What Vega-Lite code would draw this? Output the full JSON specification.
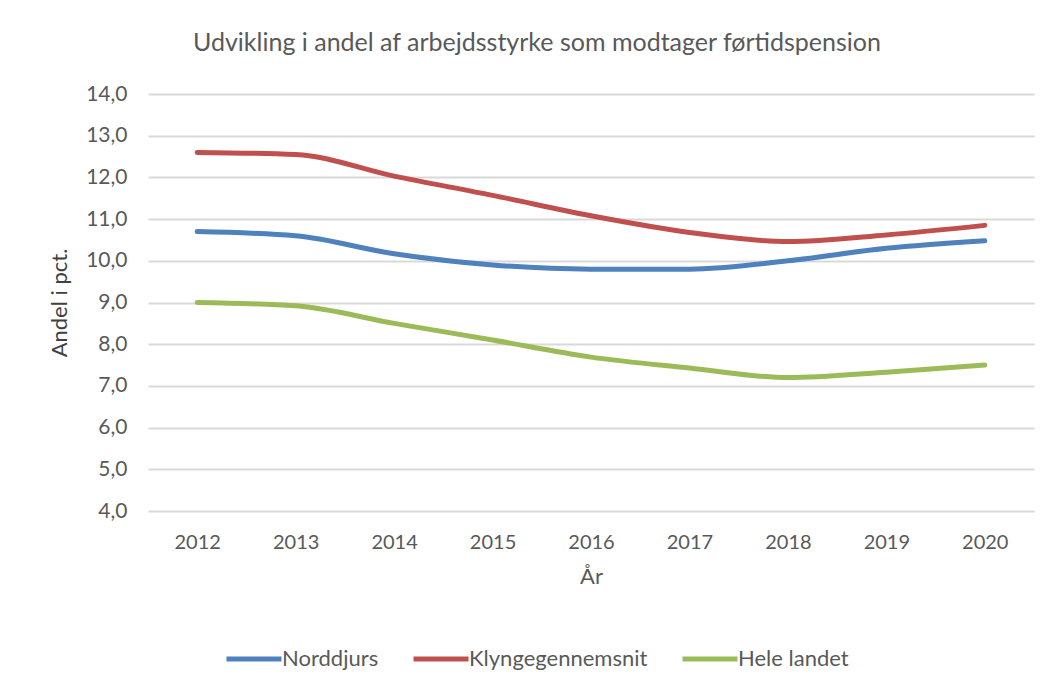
{
  "$schema": "https://vega.github.io/schema/vega-lite/v6.json",
  "width": 886,
  "height": 417,
  "autosize": {"type": "none"},
  "padding": {"left": 148, "top": 94, "right": 26, "bottom": 175},
  "background": "white",
  "title": {
    "text": "Udvikling i andel af arbejdsstyrke som modtager førtidspension",
    "font": "Lato",
    "fontSize": 25,
    "fontWeight": "normal",
    "color": "#595959",
    "anchor": "middle",
    "dx": -54,
    "offset": 27
  },
  "data": {
    "values": [
      {"year": "2012", "series": "Norddjurs", "value": 10.7},
      {"year": "2013", "series": "Norddjurs", "value": 10.6},
      {"year": "2014", "series": "Norddjurs", "value": 10.17},
      {"year": "2015", "series": "Norddjurs", "value": 9.9},
      {"year": "2016", "series": "Norddjurs", "value": 9.8},
      {"year": "2017", "series": "Norddjurs", "value": 9.8},
      {"year": "2018", "series": "Norddjurs", "value": 10.0},
      {"year": "2019", "series": "Norddjurs", "value": 10.3},
      {"year": "2020", "series": "Norddjurs", "value": 10.48},
      {"year": "2012", "series": "Klyngegennemsnit", "value": 12.6},
      {"year": "2013", "series": "Klyngegennemsnit", "value": 12.55},
      {"year": "2014", "series": "Klyngegennemsnit", "value": 12.03},
      {"year": "2015", "series": "Klyngegennemsnit", "value": 11.57},
      {"year": "2016", "series": "Klyngegennemsnit", "value": 11.08},
      {"year": "2017", "series": "Klyngegennemsnit", "value": 10.68},
      {"year": "2018", "series": "Klyngegennemsnit", "value": 10.46},
      {"year": "2019", "series": "Klyngegennemsnit", "value": 10.62},
      {"year": "2020", "series": "Klyngegennemsnit", "value": 10.85},
      {"year": "2012", "series": "Hele landet", "value": 9.0},
      {"year": "2013", "series": "Hele landet", "value": 8.92},
      {"year": "2014", "series": "Hele landet", "value": 8.5},
      {"year": "2015", "series": "Hele landet", "value": 8.1},
      {"year": "2016", "series": "Hele landet", "value": 7.69},
      {"year": "2017", "series": "Hele landet", "value": 7.43},
      {"year": "2018", "series": "Hele landet", "value": 7.2},
      {"year": "2019", "series": "Hele landet", "value": 7.33},
      {"year": "2020", "series": "Hele landet", "value": 7.5}
    ]
  },
  "mark": {"type": "line", "strokeWidth": 5, "strokeCap": "round", "strokeJoin": "round", "interpolate": "monotone"},
  "encoding": {
    "x": {
      "field": "year",
      "type": "ordinal",
      "scale": {"type": "point", "padding": 0.5},
      "axis": {
        "title": "År",
        "labelAngle": 0,
        "labelFont": "Lato",
        "labelFontSize": 20,
        "labelColor": "#595959",
        "labelPadding": 21,
        "ticks": false,
        "domain": false,
        "grid": false,
        "titleFont": "Lato",
        "titleFontSize": 22,
        "titleFontWeight": "normal",
        "titleColor": "#595959",
        "titlePadding": 14
      }
    },
    "y": {
      "field": "value",
      "type": "quantitative",
      "scale": {"domain": [4, 14], "nice": false, "zero": false},
      "axis": {
        "title": "Andel i pct.",
        "values": [4, 5, 6, 7, 8, 9, 10, 11, 12, 13, 14],
        "labelExpr": "replace(format(datum.value, '.1f'), '.', ',')",
        "labelFont": "Lato",
        "labelFontSize": 21,
        "labelColor": "#595959",
        "labelPadding": 21,
        "ticks": false,
        "domain": false,
        "grid": true,
        "gridColor": "#D9D9D9",
        "gridWidth": 2,
        "titleFont": "Lato",
        "titleFontSize": 22,
        "titleFontWeight": "normal",
        "titleColor": "#404040",
        "titlePadding": 14
      }
    },
    "color": {
      "field": "series",
      "type": "nominal",
      "scale": {
        "domain": ["Norddjurs", "Klyngegennemsnit", "Hele landet"],
        "range": ["#4F81BD", "#C0504D", "#9BBB59"]
      },
      "legend": {
        "orient": "none",
        "direction": "horizontal",
        "legendX": 76,
        "legendY": 535,
        "title": null,
        "symbolType": "stroke",
        "symbolSize": 3025,
        "symbolStrokeWidth": 5,
        "labelFont": "Lato",
        "labelFontSize": 22,
        "labelLimit": 400,
        "labelColor": "#595959",
        "labelOffset": -2,
        "columnPadding": 24
      }
    }
  },
  "config": {"view": {"stroke": null}}
}
